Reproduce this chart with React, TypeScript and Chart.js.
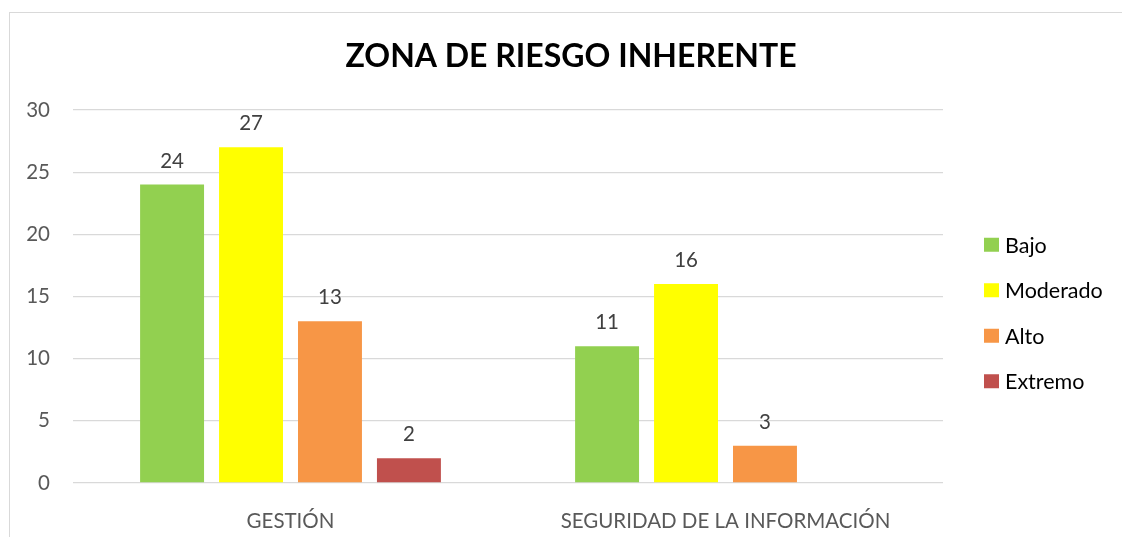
import React, { useEffect, useRef } from "react";
import { Chart, registerables } from "chart.js";

Chart.register(...registerables);

const TITLE = "ZONA DE RIESGO INHERENTE";
const categories = ["GESTIÓN", "SEGURIDAD DE LA INFORMACIÓN"];
const seriesNames = ["Bajo", "Moderado", "Alto", "Extremo"];
const bajo = [24, 11];
const moderado = [27, 16];
const alto = [13, 3];
const extremo: (number | null)[] = [2, null];
const seriesColors = ["#92D050", "#FFFF00", "#F79646", "#C0504D"];
const yTicks = [0, 5, 10, 15, 20, 25, 30];

const FONT = "Lato, 'Open Sans', sans-serif";

const valueLabels = {
  id: "valueLabels",
  afterDatasetsDraw(chart: any) {
    const ctx = chart.ctx;
    ctx.save();
    ctx.font = `20.5px ${FONT}`;
    ctx.fillStyle = "#404040";
    ctx.textAlign = "center";
    ctx.textBaseline = "alphabetic";
    chart.data.datasets.forEach((ds: any, i: number) => {
      const meta = chart.getDatasetMeta(i);
      meta.data.forEach((el: any, j: number) => {
        const v = ds.data[j];
        if (v === null || v === undefined) return;
        ctx.fillText(String(v), el.x, el.y - 17);
      });
    });
    ctx.restore();
  },
};

const sideLegend = {
  id: "sideLegend",
  afterDraw(chart: any) {
    const ctx = chart.ctx;
    const area = chart.chartArea;
    const n = chart.data.datasets.length;
    const spacing = 45.5;
    const cy = (area.top + area.bottom) / 2 + 16.5;
    const bx = area.right + 41;
    ctx.save();
    ctx.font = `21.5px ${FONT}`;
    ctx.textBaseline = "middle";
    ctx.textAlign = "left";
    chart.data.datasets.forEach((ds: any, i: number) => {
      const y = cy + (i - (n - 1) / 2) * spacing;
      ctx.fillStyle = ds.backgroundColor;
      ctx.fillRect(bx, y - 7, 15, 14);
      ctx.fillStyle = "#000000";
      ctx.fillText(ds.label, bx + 21, y + 1);
    });
    ctx.restore();
  },
};

export default function App() {
  const ref = useRef<HTMLCanvasElement | null>(null);

  useEffect(() => {
    if (!ref.current) return;
    const seriesData = [bajo, moderado, alto, extremo];
    const chart = new Chart(ref.current, {
      type: "bar",
      data: {
        labels: categories,
        datasets: seriesNames.map((name, i) => ({
          label: name,
          data: seriesData[i],
          backgroundColor: seriesColors[i],
          borderWidth: 0,
          barPercentage: 0.81,
          categoryPercentage: 0.726,
          yAxisID: "y",
        })),
      },
      options: {
        animation: false,
        responsive: false,
        maintainAspectRatio: false,
        layout: { padding: 0 },
        plugins: {
          legend: { display: false },
          tooltip: { enabled: false },
          title: {
            display: true,
            text: TITLE,
            color: "#000000",
            font: { family: FONT, size: 32, weight: "bold", lineHeight: 1.2 },
            padding: { top: 24.5, bottom: 34.1 },
          },
        },
        scales: {
          x: {
            grid: { display: false },
            border: { display: false },
            ticks: {
              color: "#595959",
              font: { family: FONT, size: 20.5 },
              padding: 18,
              maxRotation: 0,
            },
            afterFit(scale: any) {
              scale.height = 54;
            },
          },
          y: {
            min: 0,
            max: 30,
            afterBuildTicks(scale: any) {
              scale.ticks = yTicks.map((v) => ({ value: v }));
            },
            grid: { color: "#D9D9D9", lineWidth: 1.3, drawTicks: false },
            border: { display: false },
            ticks: {
              color: "#595959",
              font: { family: FONT, size: 20.5 },
              padding: 23,
            },
            afterFit(scale: any) {
              scale.width = 63;
            },
          },
          legendSpace: {
            position: "right",
            display: true,
            min: 0,
            max: 30,
            grid: { display: false },
            border: { display: false },
            ticks: { display: false },
            afterFit(scale: any) {
              scale.width = 189;
            },
          },
        },
      },
      plugins: [valueLabels, sideLegend],
    });
    return () => chart.destroy();
  }, []);

  return (
    <div
      style={{
        position: "absolute",
        left: 9,
        top: 12,
        width: 1200,
        height: 600,
        border: "1.5px solid #D9D9D9",
        background: "#ffffff",
      }}
    >
      <canvas ref={ref} width={1122} height={524} style={{ display: "block" }} />
    </div>
  );
}
